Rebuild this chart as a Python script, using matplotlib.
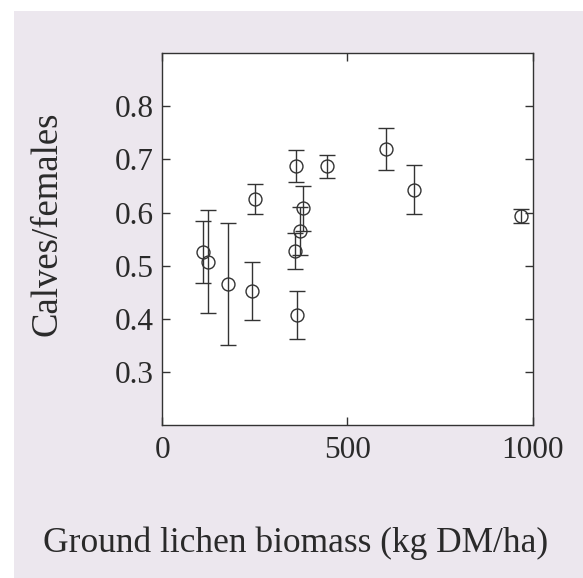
import matplotlib
matplotlib.use("Agg")
import matplotlib.pyplot as plt
from matplotlib.patches import Rectangle

# Data
lichen_biomass = [110, 124, 177, 242, 249, 362, 357, 371, 381, 364, 445, 603, 679, 969]
calves_per_female = [0.526, 0.507, 0.465, 0.452, 0.625, 0.687, 0.527, 0.566, 0.608, 0.407, 0.687, 0.720, 0.643, 0.593]
error_halfwidth = [0.059, 0.097, 0.115, 0.055, 0.028, 0.030, 0.034, 0.045, 0.042, 0.045, 0.022, 0.039, 0.046, 0.013]

x_ticks = [0, 500, 1000]
y_ticks = [0.3, 0.4, 0.5, 0.6, 0.7, 0.8]

plt.rcParams['font.family'] = ['Liberation Serif', 'DejaVu Serif']

W, H = 583, 578
fig = plt.figure(figsize=(W / 100, H / 100), dpi=100, facecolor='white')
# scanned-page background
fig.patches.append(Rectangle((14 / W, 0), 1 - 14 / W, 1 - 11 / H,
                             transform=fig.transFigure, facecolor='#ECE7EE',
                             edgecolor='none', zorder=-10))

ax = fig.add_axes([0.2784, 0.2647, 0.6353, 0.6431])
ax.set_facecolor('white')

ax.errorbar(lichen_biomass, calves_per_female, yerr=error_halfwidth,
            fmt='o', mfc='none', mec='#333333', ms=9.3, mew=1.0,
            ecolor='#333333', elinewidth=1.0, capsize=5.5, capthick=1.0)

ax.set_xlim(0, 1000)
ax.set_ylim(0.2, 0.9)
ax.set_xticks(x_ticks)
ax.set_yticks(y_ticks)
ax.set_xticklabels([str(v) for v in x_ticks])
ax.set_yticklabels([f"{v:.1f}" for v in y_ticks])

ax.tick_params(direction='in', length=6, width=1.0, color='#333333',
               top=True, right=True, labelsize=22.5, labelcolor='#2a2a2a')
ax.tick_params(axis='y', pad=6)
ax.tick_params(axis='x', pad=8)
for s in ax.spines.values():
    s.set_linewidth(1.0)
    s.set_color('#333333')

fig.text(296 / W, 1 - 552 / H, 'Ground lichen biomass (kg DM/ha)', fontsize=25.5,
         color='#2a2a2a', ha='center', va='baseline')
fig.text(47 / W, 1 - 224 / H, 'Calves/females', fontsize=26.5, rotation=90,
         color='#2a2a2a', ha='center', va='center')

fig.savefig('out.png', dpi=100, facecolor=fig.get_facecolor())
